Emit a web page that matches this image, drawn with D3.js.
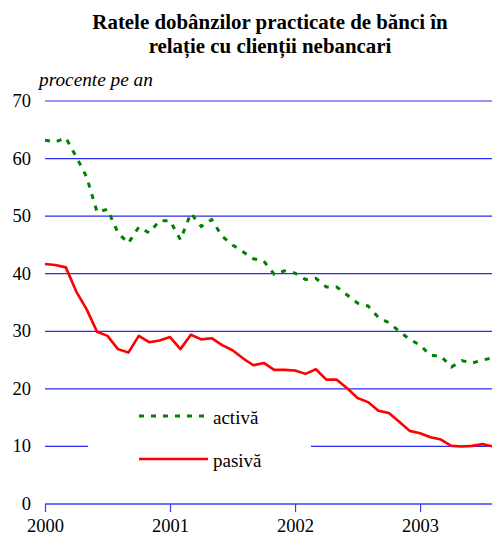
<!doctype html>
<html>
<head>
<meta charset="utf-8">
<style>
  body { margin: 0; background: #fff; }
  svg text { font-family: "Liberation Serif", "Times New Roman", serif; fill: #000; }
</style>
<script src="https://d3js.org/d3.v7.min.js"></script>
</head>
<body>
<svg width="492" height="537" class="chart"></svg>
<script>
// monthly series, Jan 2000 - Aug 2003
var years = ["2000", "2001", "2002", "2003"];
var yTicks = [0, 10, 20, 30, 40, 50, 60, 70];
var activa = [63.2, 62.9, 63.6, 60.3, 56.8, 50.7, 51.2, 47.1, 45.3, 48.1, 47.1, 49.2,
              49.2, 45.9, 50.5, 48.2, 49.4, 46.5, 45.0, 43.8, 42.6, 42.2, 39.9, 40.5,
              40.1, 39.0, 39.2, 37.7, 37.7, 36.3, 34.9, 34.4, 32.4, 31.5, 30.0, 28.6,
              27.6, 25.8, 25.7, 23.8, 24.9, 24.5, 25.0, 25.4];
var pasiva = [41.7, 41.5, 41.1, 36.9, 33.8, 29.9, 29.2, 26.9, 26.3, 29.2, 28.1, 28.4,
              29.0, 26.9, 29.4, 28.6, 28.8, 27.6, 26.7, 25.3, 24.1, 24.5, 23.3, 23.3,
              23.2, 22.6, 23.4, 21.6, 21.6, 20.1, 18.4, 17.7, 16.2, 15.8, 14.3, 12.7,
              12.3, 11.6, 11.2, 10.1, 10.0, 10.1, 10.4, 10.0];

var svg = d3.select(".chart");

var x = d3.scaleLinear().domain([0, 43]).range([45, 493]);
var y = d3.scaleLinear().domain([0, 70]).range([504, 101]);

// title
svg.append("text").attr("x", 270).attr("y", 29).attr("text-anchor", "middle")
   .attr("font-size", "20.9px").attr("font-weight", "bold")
   .text("Ratele dobânzilor practicate de bănci în");
svg.append("text").attr("x", 270).attr("y", 53).attr("text-anchor", "middle")
   .attr("font-size", "20.9px").attr("font-weight", "bold")
   .text("relație cu clienții nebancari");

svg.append("text").attr("x", 39).attr("y", 86)
   .attr("font-size", "19.3px").attr("font-style", "italic")
   .text("procente pe an");

// gridlines
svg.append("g").selectAll("line")
   .data(yTicks.filter(function(d) { return d > 0; }))
   .enter().append("line")
   .attr("x1", 45).attr("x2", 492)
   .attr("y1", function(d) { return y(d); })
   .attr("y2", function(d) { return y(d); })
   .attr("stroke", "#2a2af5").attr("stroke-width", 1.2);

// y labels
svg.append("g").selectAll("text")
   .data(yTicks)
   .enter().append("text")
   .attr("x", 31).attr("y", function(d) { return y(d) + 6; })
   .attr("text-anchor", "end").attr("font-size", "18.5px")
   .text(function(d) { return d; });

// x axis
var xAxis = svg.append("g").attr("transform", "translate(0,504)")
   .call(d3.axisBottom(x).tickValues([0, 12, 24, 36])
         .tickFormat(function(d, i) { return years[i]; })
         .tickSize(8).tickSizeOuter(0));
xAxis.select(".domain").attr("stroke", "#7070ff").attr("stroke-width", 2.2)
     .attr("d", "M45,0H492");
xAxis.selectAll(".tick line").attr("stroke", "#3a3af5").attr("stroke-width", 1.2);
xAxis.selectAll(".tick text").attr("font-size", "18.5px")
     .attr("font-family", "Liberation Serif, Times New Roman, serif")
     .attr("fill", "#000").attr("y", 15).attr("dy", "0.71em");

// legend background
svg.append("rect").attr("x", 88).attr("y", 398).attr("width", 223).attr("height", 78)
   .attr("fill", "#fff");

var line = d3.line()
   .x(function(d, i) { return x(i); })
   .y(function(d) { return y(d); });

svg.append("path").datum(pasiva)
   .attr("d", line).attr("fill", "none")
   .attr("stroke", "#ff0000").attr("stroke-width", 2.6)
   .attr("stroke-linejoin", "round");

svg.append("path").datum(activa)
   .attr("d", line).attr("fill", "none")
   .attr("stroke", "#008000").attr("stroke-width", 3)
   .attr("stroke-dasharray", "5,7");

// legend
var legend = [
  { name: "activă", color: "#008000", dash: "5,7", y: 416 },
  { name: "pasivă", color: "#ff0000", dash: null, y: 459 }
];
var lg = svg.append("g").selectAll("g").data(legend).enter().append("g");
lg.append("line")
  .attr("x1", 139).attr("x2", 208)
  .attr("y1", function(d) { return d.y; }).attr("y2", function(d) { return d.y; })
  .attr("stroke", function(d) { return d.color; })
  .attr("stroke-width", function(d) { return d.dash ? 3 : 2.6; })
  .attr("stroke-dasharray", function(d) { return d.dash; });
lg.append("text")
  .attr("x", 213).attr("y", function(d) { return d.y + 8; })
  .attr("font-size", "19px")
  .text(function(d) { return d.name; });
</script>
</body>
</html>
